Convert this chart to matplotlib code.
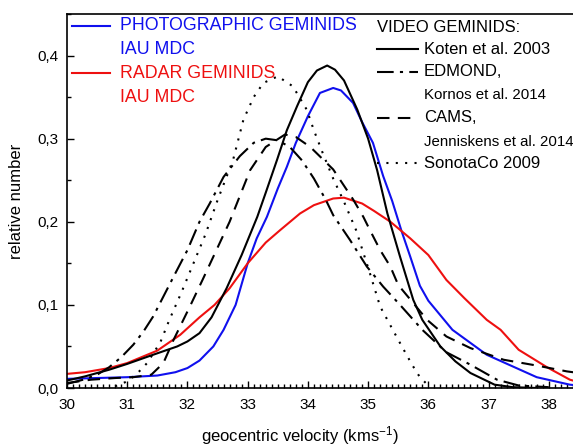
import matplotlib
matplotlib.use("Agg")
import matplotlib.pyplot as plt
from matplotlib.lines import Line2D
from matplotlib.ticker import MultipleLocator, FixedLocator, FuncFormatter

plt.rcParams['font.family'] = ['Liberation Sans', 'DejaVu Sans']
plt.rcParams['mathtext.fontset'] = 'custom'
plt.rcParams['mathtext.rm'] = 'Liberation Sans'
plt.rcParams['mathtext.it'] = 'Liberation Sans'

# photographic Geminids, IAU MDC
photo_v = [30.0, 30.5, 31.0, 31.5, 31.8, 32.0, 32.2, 32.43, 32.6, 32.8, 33.0, 33.15,
           33.32, 33.5, 33.65, 33.8, 34.0, 34.2, 34.42, 34.55, 34.75, 34.9, 35.08,
           35.25, 35.4, 35.55, 35.7, 35.86, 36.0, 36.4, 36.97, 37.4, 37.8, 38.35, 38.5]
photo_n = [0.011, 0.012, 0.013, 0.015, 0.019, 0.024, 0.033, 0.05, 0.07, 0.1, 0.15, 0.18,
           0.206, 0.24, 0.266, 0.295, 0.327, 0.355, 0.361, 0.358, 0.343, 0.32, 0.295,
           0.255, 0.225, 0.19, 0.158, 0.123, 0.105, 0.07, 0.04, 0.026, 0.013, 0.004, 0.003]

# radar Geminids, IAU MDC
radar_v = [30.0, 30.3, 30.7, 31.0, 31.5, 31.88, 32.2, 32.45, 32.7, 33.0, 33.3, 33.54,
           33.87, 34.1, 34.42, 34.6, 34.9, 35.1, 35.37, 35.7, 36.0, 36.3, 36.6, 36.97,
           37.2, 37.5, 37.97, 38.35, 38.5]
radar_n = [0.017, 0.019, 0.024, 0.03, 0.045, 0.064, 0.085, 0.1, 0.12, 0.15, 0.175, 0.19,
           0.21, 0.22, 0.228, 0.229, 0.222, 0.213, 0.2, 0.18, 0.16, 0.13, 0.108, 0.082,
           0.07, 0.046, 0.025, 0.01, 0.007]

# video: Koten et al. 2003
koten_v = [30.0, 30.3, 30.7, 31.0, 31.43, 31.83, 32.0, 32.2, 32.4, 32.65, 32.9, 33.16,
           33.3, 33.49, 33.65, 33.82, 34.0, 34.15, 34.32, 34.45, 34.6, 34.82, 35.0,
           35.15, 35.32, 35.53, 35.75, 35.9, 36.2, 36.45, 36.7, 37.1, 37.4, 37.8]
koten_n = [0.009, 0.014, 0.022, 0.029, 0.04, 0.05, 0.056, 0.066, 0.085, 0.12, 0.16, 0.206,
           0.235, 0.275, 0.31, 0.339, 0.368, 0.382, 0.388, 0.383, 0.37, 0.335, 0.3,
           0.262, 0.21, 0.158, 0.106, 0.082, 0.05, 0.032, 0.018, 0.004, 0.001, 0.0]

# video: EDMOND, Kornos et al. 2014
edmond_v = [30.0, 30.27, 30.5, 30.7, 30.9, 31.1, 31.27, 31.43, 31.6, 31.77, 32.0, 32.2,
            32.37, 32.6, 32.87, 33.1, 33.3, 33.5, 33.7, 33.9, 34.1, 34.3, 34.42, 34.7,
            34.98, 35.25, 35.53, 35.9, 36.3, 36.7, 37.14, 37.5, 38.0]
edmond_n = [0.005, 0.01, 0.016, 0.025, 0.037, 0.052, 0.068, 0.086, 0.11, 0.134, 0.166, 0.2,
            0.222, 0.254, 0.279, 0.295, 0.3, 0.298, 0.29, 0.274, 0.252, 0.226, 0.208, 0.178,
            0.146, 0.122, 0.1, 0.07, 0.043, 0.028, 0.01, 0.003, 0.001]

# video: CAMS, Jenniskens et al. 2014
cams_v = [30.0, 30.4, 30.8, 31.1, 31.4, 31.6, 31.77, 32.04, 32.25, 32.43, 32.7, 33.04,
          33.3, 33.62, 33.8, 34.04, 34.42, 34.75, 34.92, 35.03, 35.2, 35.37, 35.5,
          35.98, 36.3, 36.7, 37.25, 37.8, 38.3, 38.5]
cams_n = [0.006, 0.01, 0.012, 0.013, 0.016, 0.03, 0.058, 0.098, 0.13, 0.158, 0.2, 0.262,
          0.29, 0.305, 0.302, 0.29, 0.263, 0.227, 0.206, 0.19, 0.166, 0.146, 0.124,
          0.082, 0.062, 0.048, 0.034, 0.027, 0.02, 0.018]

# video: SonotaCo 2009
sonota_v = [30.8, 31.0, 31.16, 31.33, 31.55, 31.7, 31.9, 32.1, 32.3, 32.5, 32.76, 32.93,
            33.1, 33.26, 33.5, 33.75, 33.98, 34.1, 34.25, 34.42, 34.6, 34.8, 35.03, 35.2,
            35.5, 35.73, 35.86, 36.0]
sonota_n = [0.002, 0.008, 0.017, 0.03, 0.055, 0.082, 0.115, 0.15, 0.185, 0.226, 0.275, 0.323,
            0.35, 0.367, 0.375, 0.363, 0.335, 0.31, 0.282, 0.252, 0.224, 0.19, 0.138, 0.098,
            0.058, 0.028, 0.013, 0.003]

x_ticks = [30, 31, 32, 33, 34, 35, 36, 37, 38]

BLUE = '#1010ee'
RED = '#ee1010'
DASHDOT = (0, (8, 3, 1.5, 3))
DASHED = (0, (6, 4))
DOTTED = (0, (1, 3.5))

fig = plt.figure(figsize=(5.73, 4.47), dpi=100)
# axes wider than the figure: right part of the plot is cut off as in the original
ax = fig.add_axes([67 / 573, 1 - 388 / 447, 542 / 573, 374 / 447])

ax.plot(photo_v, photo_n, color=BLUE, lw=1.5)
ax.plot(radar_v, radar_n, color=RED, lw=1.5)
ax.plot(koten_v, koten_n, color='black', lw=1.5)
ax.plot(edmond_v, edmond_n, color='black', lw=1.5, linestyle=DASHDOT)
ax.plot(cams_v, cams_n, color='black', lw=1.5, linestyle=DASHED)
ax.plot(sonota_v, sonota_n, color='black', lw=1.5, linestyle=DOTTED)

ax.set_xlim(30, 39)
ax.set_ylim(0, 0.45)
ax.xaxis.set_major_locator(FixedLocator(x_ticks))
ax.xaxis.set_minor_locator(MultipleLocator(0.1))
ax.yaxis.set_major_locator(MultipleLocator(0.1))
ax.yaxis.set_minor_locator(MultipleLocator(0.05))
ax.yaxis.set_major_formatter(FuncFormatter(lambda v, p: f'{v:.1f}'.replace('.', ',')))
ax.tick_params(which='both', direction='in', labelsize=11, width=1, top=False, right=False)
ax.tick_params(which='major', length=5)
ax.tick_params(which='minor', length=3)
ax.tick_params(axis='x', pad=7)
ax.tick_params(axis='y', pad=6)
for sp in ax.spines.values():
    sp.set_linewidth(1.2)


# legend, drawn by hand in axes fraction
def fx(px):
    return (px - 67) / 542


def fy(py):
    return (388 - py) / 374


ax.set_xlabel('geocentric velocity (kms$^{-1}$)', fontsize=12)
ax.xaxis.set_label_coords(fx(300), fy(424))
ax.set_ylabel('relative number', fontsize=12, labelpad=10)


def sample(y, x0, x1, **kw):
    ax.add_line(Line2D([fx(x0), fx(x1)], [fy(y), fy(y)], transform=ax.transAxes, lw=1.5, **kw))


sample(26, 72, 110, color=BLUE)
sample(73, 72, 110, color=RED)
ax.text(fx(120), fy(26), 'PHOTOGRAPHIC GEMINIDS', color=BLUE, fontsize=12.8, va='center', transform=ax.transAxes)
ax.text(fx(120), fy(50), 'IAU MDC', color=BLUE, fontsize=12.8, va='center', transform=ax.transAxes)
ax.text(fx(120), fy(73), 'RADAR GEMINIDS', color=RED, fontsize=12.8, va='center', transform=ax.transAxes)
ax.text(fx(120), fy(97), 'IAU MDC', color=RED, fontsize=12.8, va='center', transform=ax.transAxes)

ax.text(fx(377), fy(27), 'VIDEO GEMINIDS:', fontsize=12, va='center', transform=ax.transAxes)
sample(49, 377, 418, color='black')
sample(72, 377, 418, color='black', linestyle=DASHDOT)
sample(118, 377, 418, color='black', linestyle=DASHED)
sample(163, 377, 418, color='black', linestyle=DOTTED)
ax.text(fx(424), fy(49), 'Koten et al. 2003', fontsize=12, va='center', transform=ax.transAxes)
ax.text(fx(424), fy(72), 'EDMOND,', fontsize=12, va='center', transform=ax.transAxes)
ax.text(fx(424), fy(95), 'Kornos et al. 2014', fontsize=10.8, va='center', transform=ax.transAxes)
ax.text(fx(424), fy(118), 'CAMS,', fontsize=12, va='center', transform=ax.transAxes)
ax.text(fx(424), fy(142), 'Jenniskens et al. 2014', fontsize=10.8, va='center', transform=ax.transAxes)
ax.text(fx(424), fy(163), 'SonotaCo 2009', fontsize=12, va='center', transform=ax.transAxes)

fig.savefig('out.png', dpi=100)
